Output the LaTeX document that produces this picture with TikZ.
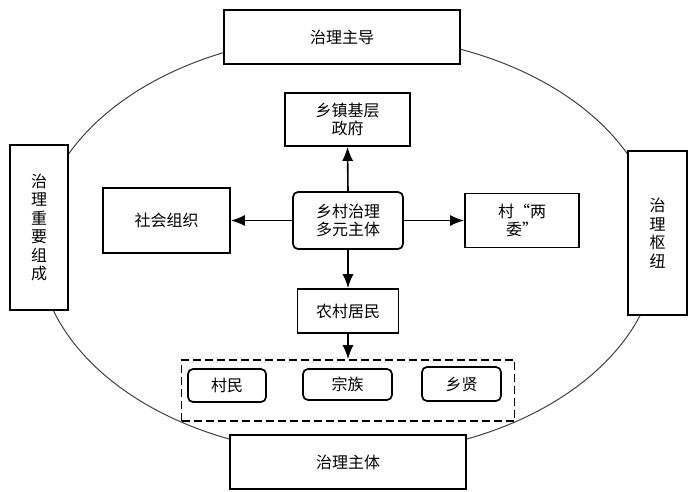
\documentclass[tikz,border=0pt]{standalone}
\usepackage{fontspec}
\setmainfont{Noto Sans CJK SC}
\usetikzlibrary{arrows.meta}
\usetikzlibrary{positioning}
\tikzstyle{box}=[draw,line width=1.7pt,fill=white,align=center,inner sep=0pt]
\tikzstyle{rbox}=[box,rounded corners=5pt]
\tikzstyle{group}=[draw,line width=1.6pt,fill=white,dash pattern=on 8pt off 4pt]
\tikzstyle{edge} = [draw,line width=1.6pt,-{Latex[length=14pt,width=11pt]}]
\tikzstyle{ring} = [draw=black!75,line width=1pt]

\begin{document}
\begin{tikzpicture}[x=1pt,y=-1pt,font=\fontsize{16}{18.5}\selectfont]

  \useasboundingbox (0,0) rectangle (693,492);

  \draw[ring] (348,245) ellipse [x radius=310pt, y radius=210pt];

  % roles round the ring
  \foreach \x/\y/\w/\h/\name/\label in { 342/37/236/54/lead/治理主导, 39/227.5/58/165/part/{治\\理\\重\\要\\组\\成},
      657.5/233/59/164/hub/{治\\理\\枢\\纽}, 348/462/236/54/subj/治理主体}
          \node[box, minimum width=\w pt, minimum height=\h pt] (\name) at (\x,\y) {\label};

  % actors
  \foreach \x/\y/\w/\h/\name/\label in { 347.5/119.5/125/53/gov/{乡镇基层\\政府}, 166.5/220.5/127/65/soc/社会组织,
      522/220.5/114/54/vc/{村“两\\委”}, 348/311/101/44/farm/农村居民}
          \node[box, minimum width=\w pt, minimum height=\h pt] (\name) at (\x,\y) {\label};

  \node[rbox, minimum width=110pt, minimum height=57pt] (core) at (348,220.5) {乡村治理\\多元主体};

  \node[group, minimum width=333pt, minimum height=61pt] (grp) at (348,390.5) {};

  \foreach \x/\y/\w/\h/\name/\label in { 227/385.5/78/33/vil/村民, 347.5/384.5/89/31/clan/宗族, 461.5/384/79/34/sage/乡贤}
          \node[rbox, minimum width=\w pt, minimum height=\h pt] (\name) at (\x,\y) {\label};

  \foreach \source/\dest/\a/\b in {core/gov/north/south, core/soc/west/east, core/vc/east/west, core/farm/south/north, farm/grp/south/north}
         \draw[edge] (\source.\a) -- (\dest.\b);

\end{tikzpicture}
\end{document}
